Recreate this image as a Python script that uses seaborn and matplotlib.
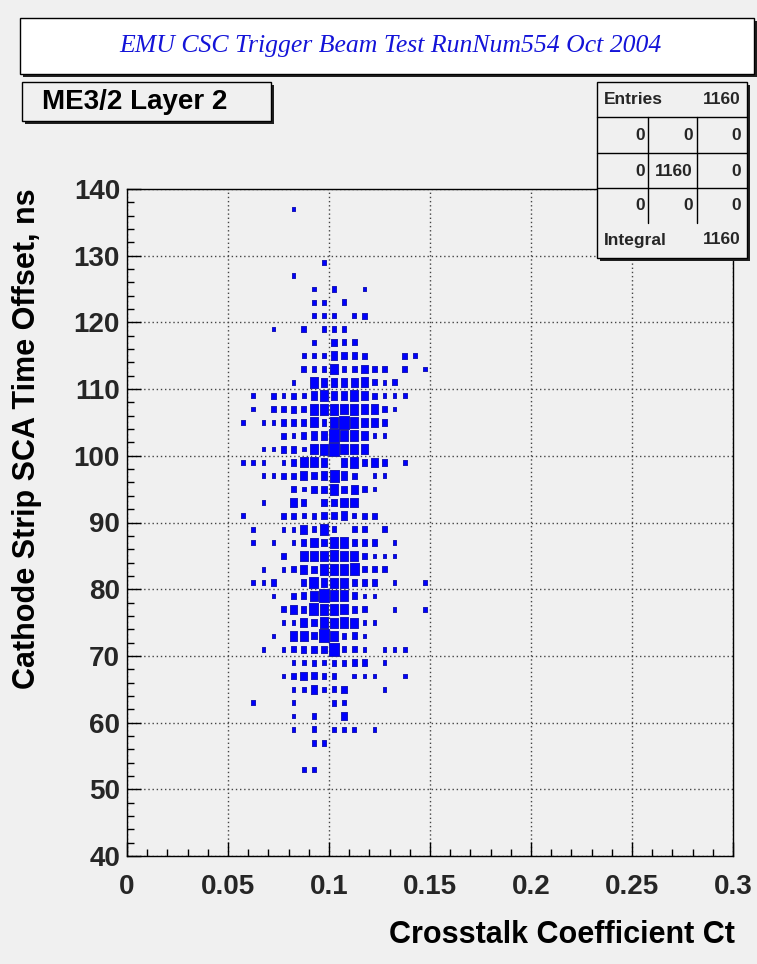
import numpy as np
import pandas as pd
import matplotlib
matplotlib.use("Agg")
import matplotlib.pyplot as plt
import seaborn as sns
from matplotlib.patches import Rectangle
from matplotlib.lines import Line2D
from matplotlib.ticker import MultipleLocator, FixedLocator
from matplotlib.markers import MarkerStyle

# ---------------- data ----------------
title = "EMU CSC Trigger Beam Test RunNum554 Oct 2004"
hist_name = "ME3/2 Layer 2"
x_label = "Crosstalk Coefficient Ct"
y_label = "Cathode Strip SCA Time Offset, ns"
x_ticks = [0, 0.05, 0.1, 0.15, 0.2, 0.25, 0.3]
x_tick_labels = ["0", "0.05", "0.1", "0.15", "0.2", "0.25", "0.3"]
y_ticks = [40, 50, 60, 70, 80, 90, 100, 110, 120, 130, 140]

ct_bins = [0.0575, 0.0625, 0.0675, 0.0725, 0.0775, 0.0825, 0.0875, 0.0925, 0.0975,
           0.1025, 0.1075, 0.1125, 0.1175, 0.1225, 0.1275, 0.1325, 0.1375, 0.1425, 0.1475]
offset_bins = [137, 135, 133, 131, 129, 127, 125, 123, 121, 119, 117, 115, 113, 111,
               109, 107, 105, 103, 101, 99, 97, 95, 93, 91, 89, 87, 85, 83, 81, 79,
               77, 75, 73, 71, 69, 67, 65, 63, 61, 59, 57, 55, 53]
# counts[row][col]: rows follow offset_bins, columns follow ct_bins
counts = [
    [0, 0, 0, 0, 0, 1, 0, 0, 0, 0, 0, 0, 0, 0, 0, 0, 0, 0, 0],  # 137
    [0, 0, 0, 0, 0, 0, 0, 0, 0, 0, 0, 0, 0, 0, 0, 0, 0, 0, 0],  # 135
    [0, 0, 0, 0, 0, 0, 0, 0, 0, 0, 0, 0, 0, 0, 0, 0, 0, 0, 0],  # 133
    [0, 0, 0, 0, 0, 0, 0, 0, 0, 0, 0, 0, 0, 0, 0, 0, 0, 0, 0],  # 131
    [0, 0, 0, 0, 0, 0, 0, 0, 1, 0, 0, 0, 0, 0, 0, 0, 0, 0, 0],  # 129
    [0, 0, 0, 0, 0, 1, 0, 0, 0, 0, 0, 0, 0, 0, 0, 0, 0, 0, 0],  # 127
    [0, 0, 0, 0, 0, 0, 0, 1, 0, 2, 0, 0, 1, 0, 0, 0, 0, 0, 0],  # 125
    [0, 0, 0, 0, 0, 0, 0, 1, 1, 0, 2, 0, 0, 0, 0, 0, 0, 0, 0],  # 123
    [0, 0, 0, 0, 0, 0, 0, 1, 1, 1, 0, 1, 2, 0, 0, 0, 0, 0, 0],  # 121
    [0, 0, 0, 1, 0, 0, 2, 0, 2, 2, 2, 0, 0, 0, 0, 0, 0, 0, 0],  # 119
    [0, 0, 0, 0, 0, 0, 0, 1, 0, 3, 2, 2, 0, 0, 0, 0, 0, 0, 0],  # 117
    [0, 0, 0, 0, 0, 0, 1, 1, 1, 5, 3, 3, 2, 0, 0, 0, 2, 1, 0],  # 115
    [0, 0, 0, 0, 0, 0, 2, 2, 2, 7, 2, 2, 5, 2, 2, 0, 2, 0, 1],  # 113
    [0, 0, 0, 0, 0, 1, 0, 9, 5, 5, 5, 5, 7, 2, 1, 2, 0, 0, 0],  # 111
    [0, 1, 0, 2, 1, 2, 1, 5, 9, 5, 5, 9, 5, 2, 1, 1, 1, 0, 0],  # 109
    [0, 1, 0, 2, 2, 3, 2, 9, 9, 9, 7, 9, 7, 7, 2, 1, 0, 0, 0],  # 107
    [1, 0, 1, 1, 2, 3, 3, 7, 2, 9, 14, 9, 5, 5, 3, 0, 0, 0, 0],  # 105
    [0, 0, 0, 0, 2, 1, 3, 5, 5, 14, 9, 9, 5, 1, 1, 0, 0, 0, 0],  # 103
    [0, 0, 1, 1, 3, 3, 1, 7, 9, 14, 7, 7, 7, 0, 0, 0, 0, 0, 0],  # 101
    [1, 1, 1, 0, 1, 2, 7, 7, 5, 0, 5, 9, 3, 5, 2, 0, 1, 0, 0],  # 99
    [0, 0, 1, 1, 2, 2, 5, 3, 5, 11, 5, 2, 0, 1, 1, 0, 0, 0, 0],  # 97
    [0, 0, 0, 0, 0, 2, 1, 3, 3, 9, 3, 5, 2, 1, 0, 0, 0, 0, 0],  # 95
    [0, 0, 1, 0, 0, 5, 3, 0, 3, 3, 7, 7, 0, 0, 0, 0, 0, 0, 0],  # 93
    [1, 0, 0, 0, 2, 2, 1, 2, 3, 3, 5, 1, 2, 2, 0, 0, 0, 0, 0],  # 91
    [0, 1, 0, 0, 1, 1, 5, 2, 9, 2, 0, 2, 2, 0, 2, 0, 0, 0, 0],  # 89
    [0, 1, 0, 1, 0, 1, 2, 7, 3, 9, 9, 3, 3, 2, 0, 1, 0, 0, 0],  # 87
    [0, 0, 0, 0, 2, 0, 7, 7, 7, 9, 7, 7, 2, 1, 1, 1, 0, 0, 0],  # 85
    [0, 0, 1, 0, 1, 2, 5, 3, 9, 9, 9, 11, 2, 2, 2, 0, 0, 0, 0],  # 83
    [0, 1, 1, 3, 0, 0, 3, 11, 5, 7, 7, 3, 3, 3, 0, 1, 0, 0, 1],  # 81
    [0, 0, 0, 1, 0, 2, 3, 7, 14, 9, 9, 3, 1, 1, 0, 0, 0, 0, 0],  # 79
    [0, 0, 0, 0, 2, 5, 3, 11, 9, 9, 7, 3, 2, 0, 0, 1, 0, 0, 1],  # 77
    [0, 0, 0, 0, 1, 1, 5, 3, 9, 7, 9, 7, 1, 1, 0, 0, 0, 0, 0],  # 75
    [0, 0, 0, 1, 0, 7, 7, 3, 14, 7, 2, 3, 1, 0, 0, 0, 0, 0, 0],  # 73
    [0, 0, 1, 0, 1, 2, 3, 3, 3, 14, 2, 2, 1, 0, 1, 1, 1, 0, 0],  # 71
    [0, 0, 0, 0, 0, 1, 1, 2, 1, 2, 2, 3, 3, 0, 1, 0, 0, 0, 0],  # 69
    [0, 0, 0, 0, 1, 2, 5, 3, 2, 2, 0, 1, 1, 1, 0, 0, 1, 0, 0],  # 67
    [0, 0, 0, 0, 0, 1, 1, 5, 1, 2, 3, 0, 0, 0, 1, 0, 0, 0, 0],  # 65
    [0, 1, 0, 0, 0, 1, 0, 0, 0, 2, 1, 0, 0, 0, 0, 0, 0, 0, 0],  # 63
    [0, 0, 0, 0, 0, 1, 0, 2, 0, 0, 3, 0, 0, 0, 0, 0, 0, 0, 0],  # 61
    [0, 0, 0, 0, 0, 1, 0, 2, 0, 1, 1, 1, 0, 1, 0, 0, 0, 0, 0],  # 59
    [0, 0, 0, 0, 0, 0, 0, 2, 2, 0, 0, 0, 0, 0, 0, 0, 0, 0, 0],  # 57
    [0, 0, 0, 0, 0, 0, 0, 0, 0, 0, 0, 0, 0, 0, 0, 0, 0, 0, 0],  # 55
    [0, 0, 0, 0, 0, 0, 1, 1, 0, 0, 0, 0, 0, 0, 0, 0, 0, 0, 0],  # 53
]
stats_entries = 1160
stats_integral = 1160
stats_grid = [["0", "0", "0"], ["0", "1160", "0"], ["0", "0", "0"]]

# ---------------- figure ----------------
W, H = 757, 964
BG = "#f0f0f0"
BLUE = "#0000ff"

sns.set_theme(style="white")
plt.rcParams["font.family"] = ["Liberation Sans", "DejaVu Sans"]
plt.rcParams["font.weight"] = "bold"

rows = []
for yi, yv in enumerate(offset_bins):
    for xi, xv in enumerate(ct_bins):
        c = counts[yi][xi]
        if c > 0:
            rows.append({"ct": xv, "offset": yv, "count": c})
df = pd.DataFrame(rows)

fig = plt.figure(figsize=(W / 100, H / 100), dpi=100, facecolor=BG)


def fx(x):
    return x / W


def fy(y):
    return 1 - y / H


ax_l, ax_r, ax_t, ax_b = 127, 733, 189, 856
ax = fig.add_axes([fx(ax_l), fy(ax_b), (ax_r - ax_l) / W, (ax_b - ax_t) / H])
ax.set_facecolor(BG)

# rectangular box marker with bin aspect ratio
bw = 0.005 / 0.3 * (ax_r - ax_l)
bh = 2 / 100 * (ax_b - ax_t)
a = 0.5 * bw / bh
box = MarkerStyle([(-a, -0.5), (a, -0.5), (a, 0.5), (-a, 0.5), (-a, -0.5)])

cmax = max(max(r) for r in counts)
smax = (0.98 * bh * 72 / 100) ** 2
size_map = {c: smax * (c / cmax) ** 0.78 for c in sorted(df["count"].unique())}
sns.scatterplot(data=df, x="ct", y="offset", size="count", sizes=size_map,
                marker=box, color=BLUE, linewidth=0.7,
                edgecolor="#1a1ab4", legend=False, ax=ax, zorder=3)

ax.set_xlim(0, 0.3)
ax.set_ylim(40, 140)
ax.xaxis.set_major_locator(FixedLocator(x_ticks))
ax.set_xticklabels(x_tick_labels)
ax.yaxis.set_major_locator(FixedLocator(y_ticks))
ax.set_yticklabels([str(v) for v in y_ticks])
ax.xaxis.set_minor_locator(MultipleLocator(0.01))
ax.yaxis.set_minor_locator(MultipleLocator(2))
ax.tick_params(which="major", direction="in", length=10, width=1, color="black",
               labelsize=20, bottom=True, left=True, top=False, right=False)
ax.tick_params(which="minor", direction="in", length=5, width=1, color="black",
               bottom=True, left=True, top=False, right=False)
ax.tick_params(axis="x", which="major", pad=13)
ax.tick_params(axis="y", which="major", pad=5)
for lab in ax.get_xticklabels() + ax.get_yticklabels():
    lab.set_fontweight("bold")
ax.grid(True, which="major", linestyle=(0, (1, 2)), color="#444444", linewidth=1)
ax.set_axisbelow(True)
for sp in ax.spines.values():
    sp.set_color("black")
    sp.set_linewidth(1)
ax.set_xlabel("")
ax.set_ylabel("")

fig.text(fx(735), fy(935), x_label, ha="right", va="center", fontsize=22,
         fontweight="bold", color="black")
fig.text(fx(27), fy(188), y_label, ha="center", va="top", rotation=90,
         fontsize=22, fontweight="bold", color="black")


def pave(x0, y0, x1, y1, face, shadow=3, z=5):
    fig.patches.append(Rectangle((fx(x0 + shadow), fy(y1 + shadow)), (x1 - x0) / W,
                                 (y1 - y0) / H, transform=fig.transFigure,
                                 facecolor="#202020", edgecolor="none", zorder=z))
    fig.patches.append(Rectangle((fx(x0), fy(y1)), (x1 - x0) / W, (y1 - y0) / H,
                                 transform=fig.transFigure, facecolor=face,
                                 edgecolor="black", linewidth=1, zorder=z + 0.1))


# title pave
pave(20, 18, 754, 74, "white")
fig.text(fx(390), fy(46), title, ha="center", va="center", fontsize=18.5,
         fontstyle="italic", fontweight="normal", color="#1414d8",
         family=["Liberation Serif", "DejaVu Serif"], zorder=7)

# histogram name pave
pave(22, 82, 271, 121, BG)
fig.text(fx(135), fy(102), hist_name, ha="center", va="center", fontsize=20,
         fontweight="bold", color="black", zorder=7)

# stats pave
sx0, sy0, sx1, sy1 = 597, 82, 747, 258
pave(sx0, sy0, sx1, sy1, BG, z=8)
for yl in [117, 153, 188]:
    fig.add_artist(Line2D([fx(sx0), fx(sx1)], [fy(yl), fy(yl)], color="black",
                          linewidth=1, transform=fig.transFigure, zorder=9))
for xl in [648, 697]:
    fig.add_artist(Line2D([fx(xl), fx(xl)], [fy(117), fy(223)], color="black",
                          linewidth=1, transform=fig.transFigure, zorder=9))
sfs = 12.5
fig.text(fx(604), fy(99), "Entries", ha="left", va="center", fontsize=sfs,
         fontweight="bold", zorder=10)
fig.text(fx(741), fy(99), str(stats_entries), ha="right", va="center", fontsize=sfs,
         fontweight="bold", zorder=10)
col_right = [645, 693, 741]
row_y = [136, 171, 206]
for ri, row in enumerate(stats_grid):
    for ci, val in enumerate(row):
        fig.text(fx(col_right[ci]), fy(row_y[ri]), val, ha="right", va="center",
                 fontsize=sfs, fontweight="bold", zorder=10)
fig.text(fx(604), fy(240), "Integral", ha="left", va="center", fontsize=sfs,
         fontweight="bold", zorder=10)
fig.text(fx(741), fy(240), str(stats_integral), ha="right", va="center", fontsize=sfs,
         fontweight="bold", zorder=10)

fig.savefig("out.png", dpi=100, facecolor=BG)
